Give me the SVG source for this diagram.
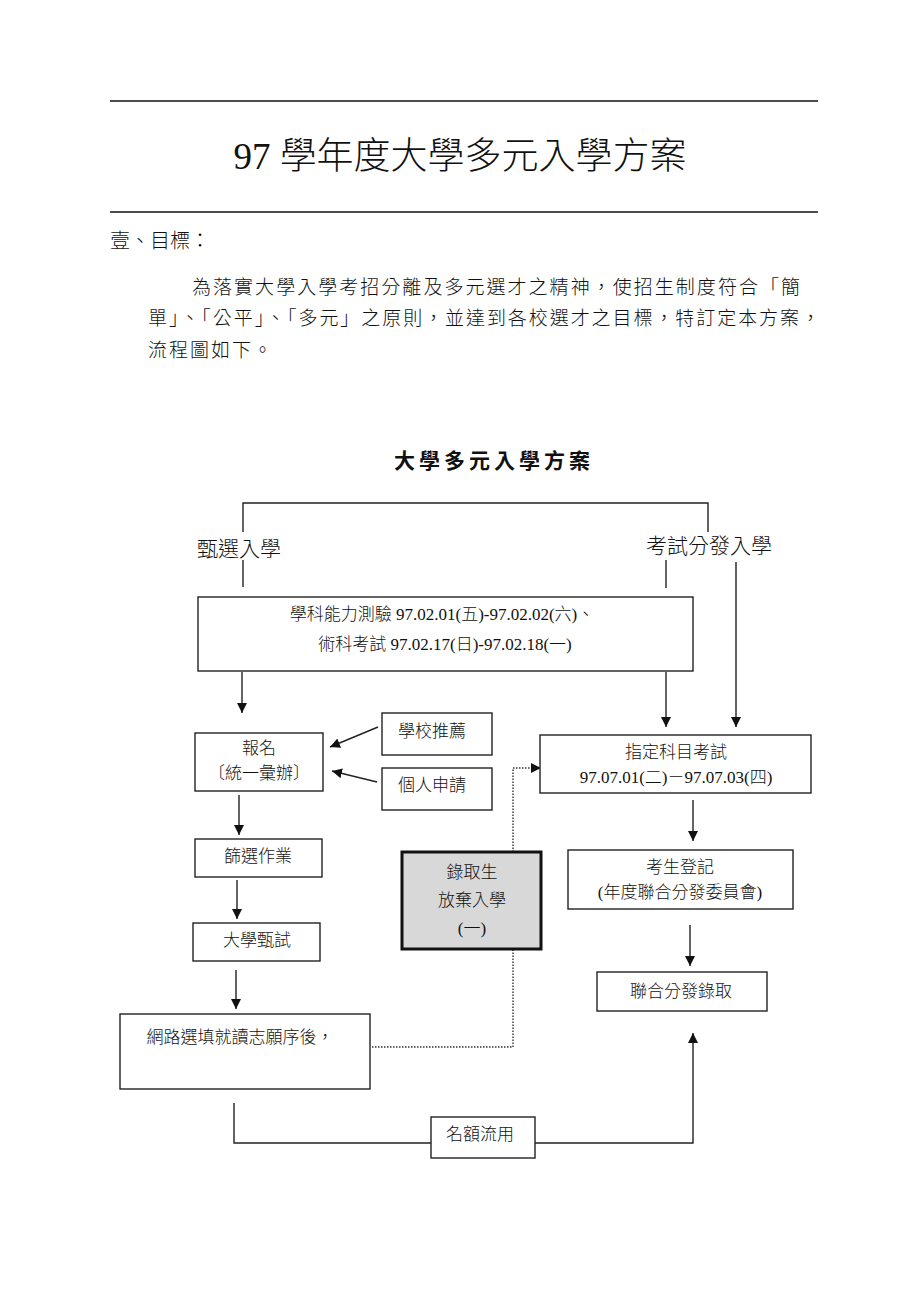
<svg xmlns="http://www.w3.org/2000/svg" width="920" height="1302" viewBox="0 0 920 1302">
<defs>
<style>
.t{font-family:"Liberation Serif","Noto Sans CJK TC",serif;fill:#111;font-weight:300}
.b{font-size:17px;text-anchor:middle}
.box{fill:#fff;stroke:#222;stroke-width:1.4}
.ln{fill:none;stroke:#222;stroke-width:1.4}
.ar{fill:none;stroke:#222;stroke-width:1.4;marker-end:url(#ah)}
.dot{fill:none;stroke:#333;stroke-width:1.4;stroke-dasharray:1.5 1.5}
</style>
<marker id="ah" viewBox="0 0 10 10" refX="10" refY="5" markerWidth="10" markerHeight="10" markerUnits="userSpaceOnUse" orient="auto">
<path d="M0,0 L10,5 L0,10 z" fill="#111"/>
</marker>
</defs>
<rect width="920" height="1302" fill="#fff"/>

<g id="header">
<line x1="110" y1="101" x2="818" y2="101" stroke="#111" stroke-width="1.6"/>
<text class="t" x="460" y="169" font-size="37" text-anchor="middle">97 學年度大學多元入學方案</text>
<line x1="110" y1="212" x2="818" y2="212" stroke="#111" stroke-width="1.6"/>
<text class="t" x="110" y="248" font-size="20">壹、目標：</text>
<text class="t" x="192" y="294" font-size="19" textLength="608" lengthAdjust="spacing">為落實大學入學考招分離及多元選才之精神，使招生制度符合「簡</text>
<text class="t" x="148" y="325" font-size="19" textLength="672" lengthAdjust="spacing">單」、「公平」、「多元」之原則，並達到各校選才之目標，特訂定本方案，</text>
<text class="t" x="148" y="357" font-size="19" letter-spacing="2">流程圖如下。</text>
<text class="t" x="494" y="468" font-size="21" style="font-weight:bold" text-anchor="middle" letter-spacing="4">大學多元入學方案</text>
</g>

<g id="connectors">
<polyline class="ln" points="243,532 243,503 708,503 708,532"/>
<line class="ln" x1="243" y1="560" x2="243" y2="587"/>
<line class="ln" x1="666" y1="560" x2="666" y2="588"/>
<line class="ar" x1="736" y1="562" x2="736" y2="727"/>
<line class="ar" x1="242" y1="672" x2="242" y2="713"/>
<line class="ar" x1="666" y1="672" x2="666" y2="727"/>
<line class="ar" x1="378" y1="727" x2="330" y2="747"/>
<line class="ar" x1="377" y1="782" x2="332" y2="771"/>
<line class="ar" x1="239" y1="795" x2="239" y2="835"/>
<line class="ar" x1="237" y1="880" x2="237" y2="919"/>
<line class="ar" x1="236" y1="970" x2="236" y2="1009"/>
<line class="ar" x1="693" y1="800" x2="693" y2="841"/>
<line class="ar" x1="690" y1="925" x2="690" y2="966"/>
<polyline class="ln" points="234,1103 234,1143 431,1143"/>
<polyline class="ar" points="535,1143 693,1143 693,1033"/>
<polyline class="dot" points="372,1047 513,1047 513,768 531,768"/>
<path d="M531,763 L541,768 L531,773 z" fill="#111"/>
</g>

<g id="label-zhenxuan">
<text class="t" x="197" y="556" font-size="21">甄選入學</text>
</g>
<g id="label-kaoshi">
<text class="t" x="646" y="553" font-size="21">考試分發入學</text>
</g>

<g id="node-exam">
<rect class="box" x="198" y="597" width="495" height="74"/>
<text class="t b" x="442" y="620">學科能力測驗 97.02.01(五)-97.02.02(六)、</text>
<text class="t b" x="445" y="650">術科考試 97.02.17(日)-97.02.18(一)</text>
</g>

<g id="node-baoming">
<rect class="box" x="195" y="733" width="128" height="58"/>
<text class="t b" x="259" y="754">報名</text>
<text class="t b" x="259" y="779">〔統一彙辦〕</text>
</g>

<g id="node-school">
<rect class="box" x="382" y="713" width="110" height="42"/>
<text class="t b" x="432" y="737">學校推薦</text>
</g>

<g id="node-personal">
<rect class="box" x="382" y="768" width="110" height="42"/>
<text class="t b" x="432" y="791">個人申請</text>
</g>

<g id="node-screen">
<rect class="box" x="195" y="839" width="127" height="38"/>
<text class="t b" x="258" y="862">篩選作業</text>
</g>

<g id="node-interview">
<rect class="box" x="193" y="923" width="127" height="38"/>
<text class="t b" x="257" y="946">大學甄試</text>
</g>

<g id="node-online">
<rect class="box" x="120" y="1014" width="250" height="75"/>
<text class="t b" x="240" y="1043">網路選填就讀志願序後，</text>
</g>

<g id="node-giveup">
<rect x="402" y="852" width="139" height="97" fill="#d8d8d8" stroke="#111" stroke-width="3"/>
<text class="t b" x="472" y="878">錄取生</text>
<text class="t b" x="472" y="906">放棄入學</text>
<text class="t b" x="472" y="934">(一)</text>
</g>

<g id="node-zhiding">
<rect class="box" x="540" y="735" width="271" height="58"/>
<text class="t b" x="676" y="758">指定科目考試</text>
<text class="t b" x="676" y="783">97.07.01(二)－97.07.03(四)</text>
</g>

<g id="node-register">
<rect class="box" x="568" y="850" width="225" height="59"/>
<text class="t b" x="680" y="873">考生登記</text>
<text class="t b" x="680" y="898">(年度聯合分發委員會)</text>
</g>

<g id="node-joint">
<rect class="box" x="597" y="972" width="170" height="39"/>
<text class="t b" x="681" y="997">聯合分發錄取</text>
</g>

<g id="node-quota">
<rect class="box" x="431" y="1117" width="104" height="41"/>
<text class="t b" x="480" y="1140">名額流用</text>
</g>
</svg>
